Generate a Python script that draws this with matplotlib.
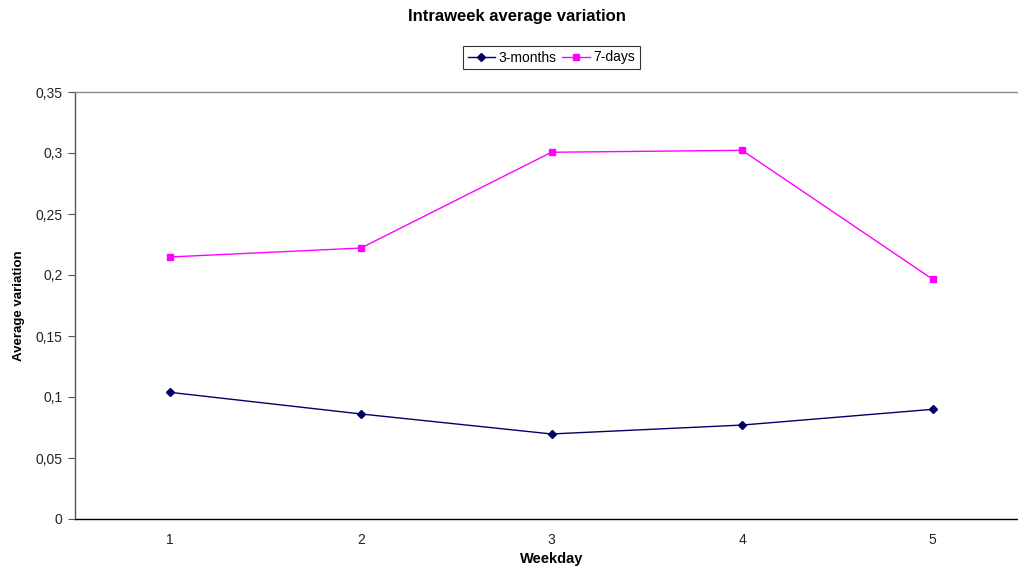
import matplotlib
matplotlib.use("Agg")
import matplotlib.pyplot as plt
from matplotlib.ticker import FuncFormatter

plt.rcParams['font.family'] = ['Liberation Sans', 'DejaVu Sans']

weekdays = [1, 2, 3, 4, 5]
three_months = [0.1038, 0.0861, 0.0697, 0.0770, 0.0899]
seven_days = [0.2148, 0.2221, 0.3006, 0.3022, 0.1965]
y_ticks = [0, 0.05, 0.1, 0.15, 0.2, 0.25, 0.3, 0.35]

fig = plt.figure(figsize=(10.18, 5.72), dpi=100)
ax = fig.add_axes([75 / 1018, 1 - 519 / 572, (1028 - 75) / 1018, (519 - 92) / 572])

ax.plot(weekdays, three_months, color='#000066', lw=1.0, marker='D', ms=4,
        markerfacecolor='#000066', markeredgecolor='#000066', label='3-months')
ax.plot(weekdays, seven_days, color='#ff00ff', lw=1.0, marker='s', ms=5,
        markerfacecolor='#ff00ff', markeredgecolor='#ff00ff', label='7-days')

ax.set_xlim(0.5, 5.5)
ax.set_ylim(0, 0.35)
ax.set_xticks(weekdays)
ax.set_yticks(y_ticks)
ax.yaxis.set_major_formatter(FuncFormatter(lambda v, p: ('%g' % v).replace('.', ',')))
ax.tick_params(axis='x', length=0, pad=10, labelsize=10, colors='#222222')
ax.tick_params(axis='y', length=5, width=0.8, direction='out', pad=4, labelsize=10,
               colors='#555555', labelcolor='#222222')

ax.spines['top'].set_color('#888888')
ax.spines['right'].set_visible(False)
ax.spines['left'].set_color('#555555')
ax.spines['bottom'].set_color('#000000')
for s in ax.spines.values():
    s.set_linewidth(1.0)

ax.set_xlabel('Weekday', fontsize=10.5, fontweight='bold', labelpad=4)
ax.set_ylabel('Average variation', fontsize=9.5, fontweight='bold')
ax.yaxis.set_label_coords(-50 / 953, 0.5)

fig.text(517 / 1018, 1 - 17 / 572, 'Intraweek average variation', ha='center', va='center',
         fontsize=12, fontweight='bold')

leg = fig.legend(loc='center', bbox_to_anchor=(551.5 / 1018, 1 - 57.5 / 572), ncol=2,
                 fontsize=10, frameon=True, fancybox=False, handlelength=2.0,
                 columnspacing=0.4, handletextpad=0.25, borderpad=0.35, borderaxespad=0.0)
leg.get_frame().set_edgecolor('#000000')
leg.get_frame().set_linewidth(0.8)

fig.savefig('out.png', dpi=100)
